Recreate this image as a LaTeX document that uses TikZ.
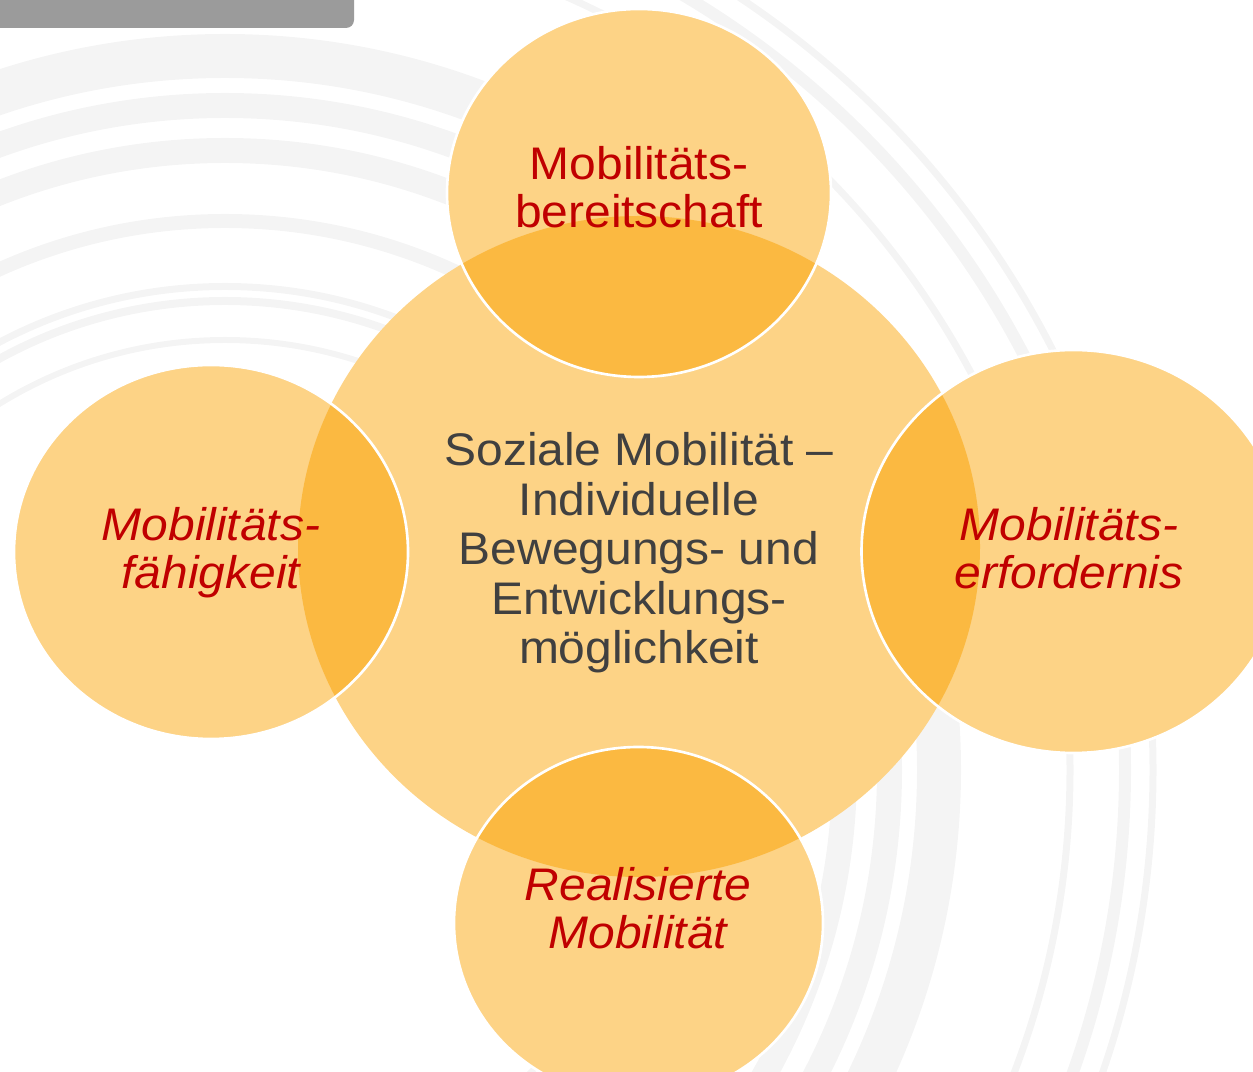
\documentclass[tikz,border=0pt]{standalone}
\usepackage{fontspec}
\setmainfont{Liberation Sans}[FakeStretch=1.05]
\definecolor{swirl}{RGB}{244,244,244}
\definecolor{petal}{RGB}{253,211,134}
\definecolor{petaldark}{RGB}{251,185,65}
\definecolor{labelred}{RGB}{192,0,0}
\definecolor{textgray}{RGB}{64,64,64}
\definecolor{bargray}{RGB}{155,155,155}

\begin{document}
\begin{tikzpicture}[scale=1,
    petaltext/.style={text=labelred, align=center, inner sep=0pt,
      font=\fontsize{26}{27.2}\selectfont},
    petalitalic/.style={petaltext, font=\fontsize{26}{27.2}\selectfont\itshape},
    coretext/.style={text=textgray, align=center, inner sep=0pt,
      font=\fontsize{26}{28.2}\selectfont}]
        \useasboundingbox (0,0) rectangle (25.06,21.42);
        \begin{scope}
        \clip (0,0) rectangle (25.06,21.42);
        \foreach \r/\w in {8.6/0.12, 9.38/0.16, 9.67/0.14, 10.98/0.28, 12.39/0.5,
                           13.29/0.5, 14.28/0.88, 16.9/0.14, 18.0/0.24, 18.56/0.14}
          \draw[color=swirl, line width=\w cm] (4.5,6.02) circle (\r);
        \fill[bargray, rounded corners=0.16cm] (-1,20.86) rectangle (7.08,22.5);
        \end{scope}
        \fill[petal] (12.78,10.49) ellipse [x radius=6.82, y radius=6.61];
        \foreach \cx/\cy/\a/\b in {12.78/17.56/3.84/3.68, 4.22/10.38/3.94/3.74,
                                   21.47/10.39/4.24/4.03, 12.77/2.96/3.69/3.52}
        {
          \fill[petal] (\cx,\cy) ellipse [x radius=\a, y radius=\b];
          \begin{scope}
          \clip (12.78,10.49) ellipse [x radius=6.82, y radius=6.61];
          \fill[petaldark] (\cx,\cy) ellipse [x radius=\a, y radius=\b];
          \end{scope}
          \draw[white, line width=1.5pt] (\cx,\cy) ellipse [x radius=\a, y radius=\b];
        }
        \node[coretext] (core) at (12.78,10.36)
          {Soziale Mobilität –\\Individuelle\\Bewegungs- und\\Entwicklungs-\\möglichkeit};
        \node[petaltext] (readiness) at (12.78,17.68) {Mobilitäts-\\bereitschaft};
        \node[petalitalic] (ability) at (4.22,10.37) {Mobilitäts-\\fähigkeit};
        \node[petalitalic] (requirement) at (21.38,10.46) {Mobilitäts-\\erfordernis};
        \node[petalitalic] (realised) at (12.76,3.25) {Realisierte\\Mobilität};
    \end{tikzpicture}
\end{document}
